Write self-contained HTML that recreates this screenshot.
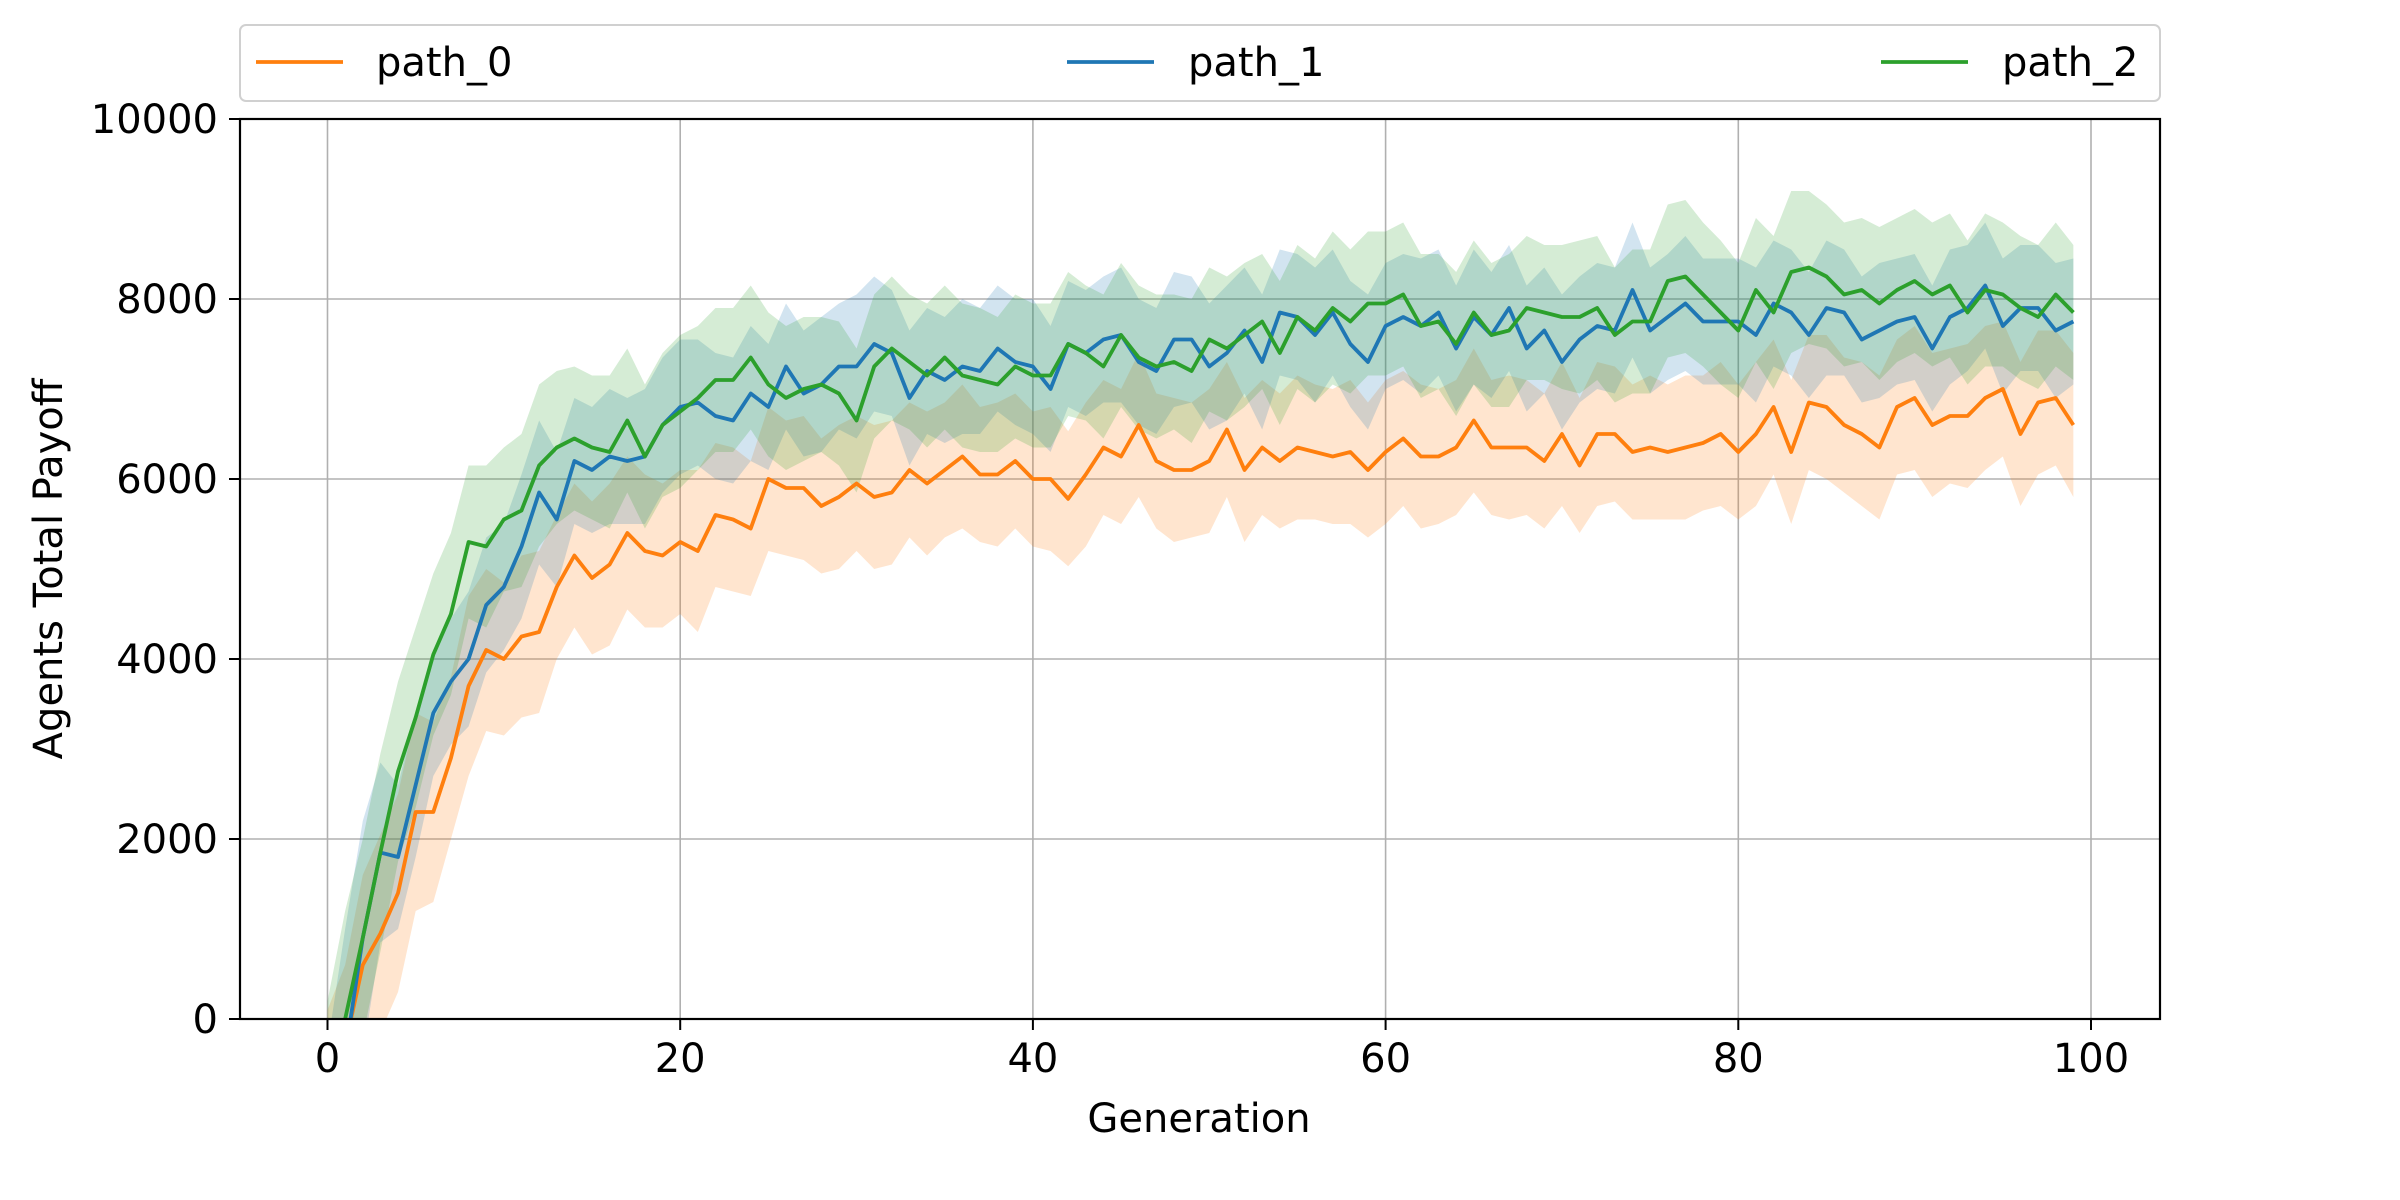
<!DOCTYPE html>
<html><head><meta charset="utf-8"><style>
html,body{margin:0;padding:0;background:#fff;width:2400px;height:1200px;overflow:hidden;}
svg{display:block;font-family:"DejaVu Sans","Liberation Sans",sans-serif;}
</style></head><body>
<svg id="chart" width="2400" height="1200" viewBox="0 0 2400 1200">
<defs><clipPath id="plotclip"><rect x="240" y="119" width="1920" height="900"/></clipPath></defs>
<rect x="0" y="0" width="2400" height="1200" fill="#fff"/>
<g id="grid"></g>
<g id="bands" clip-path="url(#plotclip)"></g>
<g id="lines" clip-path="url(#plotclip)"></g>
<rect x="240" y="119" width="1920" height="900" fill="none" stroke="#000" stroke-width="2.2"/>
<g id="ticks"></g>
<text x="1199" y="1132" font-size="40" text-anchor="middle">Generation</text>
<text x="0" y="0" font-size="40" text-anchor="middle" transform="translate(62,569) rotate(-90)">Agents Total Payoff</text>
<g>
<rect x="240" y="25" width="1920" height="76" rx="6" fill="#fff" stroke="#d0d0d0" stroke-width="2"/>
<g><line x1="256" y1="62" x2="343" y2="62" stroke="#ff7f0e" stroke-width="3.8"/><text x="376" y="76" font-size="40">path_0</text></g>
<g><line x1="1067" y1="62" x2="1154" y2="62" stroke="#1f77b4" stroke-width="3.8"/><text x="1188" y="76" font-size="40">path_1</text></g>
<g><line x1="1881" y1="62" x2="1968" y2="62" stroke="#2ca02c" stroke-width="3.8"/><text x="2002" y="76" font-size="40">path_2</text></g>
</g>
</svg>
<script>
const xTicks=[0,20,40,60,80,100];
const yTicks=[0,2000,4000,6000,8000,10000];
const path0=[-800,-300,600,950,1400,2300,2300,2900,3700,4100,4000,4250,4300,4800,5150,4900,5050,5400,5200,5150,5300,5200,5600,5550,5450,6000,5900,5900,5700,5800,5950,5800,5850,6100,5950,6100,6250,6050,6050,6200,6000,6000,5780,6050,6350,6250,6600,6200,6100,6100,6200,6550,6100,6350,6200,6350,6300,6250,6300,6100,6300,6450,6250,6250,6350,6650,6350,6350,6350,6200,6500,6150,6500,6500,6300,6350,6300,6350,6400,6500,6300,6500,6800,6300,6850,6800,6600,6500,6350,6800,6900,6600,6700,6700,6900,7000,6500,6850,6900,6600];
const path1=[-1500,-400,900,1850,1800,2600,3400,3750,4000,4600,4800,5250,5850,5550,6200,6100,6250,6200,6250,6600,6800,6850,6700,6650,6950,6800,7250,6950,7050,7250,7250,7500,7400,6900,7200,7100,7250,7200,7450,7300,7250,7000,7500,7400,7550,7600,7300,7200,7550,7550,7250,7400,7650,7300,7850,7800,7600,7850,7500,7300,7700,7800,7700,7850,7450,7800,7600,7900,7450,7650,7300,7550,7700,7650,8100,7650,7800,7950,7750,7750,7750,7600,7950,7850,7600,7900,7850,7550,7650,7750,7800,7450,7800,7900,8150,7700,7900,7900,7650,7750];
const path2=[-1000,0,900,1850,2750,3350,4050,4500,5300,5250,5550,5650,6150,6350,6450,6350,6300,6650,6250,6600,6750,6900,7100,7100,7350,7050,6900,7000,7050,6950,6650,7250,7450,7300,7150,7350,7150,7100,7050,7250,7150,7150,7500,7400,7250,7600,7350,7250,7300,7200,7550,7450,7600,7750,7400,7800,7650,7900,7750,7950,7950,8050,7700,7750,7500,7850,7600,7650,7900,7850,7800,7800,7900,7600,7750,7750,8200,8250,8050,7850,7650,8100,7850,8300,8350,8250,8050,8100,7950,8100,8200,8050,8150,7850,8100,8050,7900,7800,8050,7850];
const spread0=[900,900,1000,1100,1100,1100,1000,900,1000,900,850,900,900,800,800,850,900,850,850,800,800,900,800,800,750,800,750,800,750,800,750,800,800,750,800,750,800,750,800,750,750,800,750,800,750,750,800,750,800,750,800,750,800,750,750,800,750,750,800,750,800,750,800,750,750,800,750,800,750,750,800,750,800,750,750,800,750,800,750,800,750,800,750,800,750,800,750,800,800,750,800,800,750,800,800,750,800,800,750,800];
const spread1=[1200,1400,1300,1000,800,800,700,700,750,750,700,800,800,750,700,700,750,700,750,750,750,700,700,700,750,700,700,700,750,700,800,750,700,750,700,700,750,700,700,700,750,700,700,700,700,750,700,700,750,700,700,750,700,750,700,700,750,700,700,750,700,700,750,700,700,750,700,700,700,700,750,700,700,700,750,700,700,750,700,700,700,750,700,700,700,750,700,700,750,700,700,700,750,700,700,750,700,700,750,700];
const spread2=[1200,1200,1100,1100,1000,1000,900,900,850,900,800,850,900,850,800,800,850,800,800,800,850,800,800,800,800,800,800,800,750,800,800,800,800,750,800,800,800,800,750,800,800,800,800,750,800,800,800,800,750,800,800,800,800,750,800,800,800,850,800,800,800,800,800,750,800,800,800,850,800,750,800,850,800,750,800,800,850,850,800,800,750,800,850,900,850,800,800,800,850,800,800,800,800,800,850,800,800,800,800,750];
const X0=327.5,X1=2091,Y0=1019,Y1=119;
function sx(v){return X0+(X1-X0)*v/100;}
function sy(v){return Y0+(Y1-Y0)*v/10000;}
const NS="http://www.w3.org/2000/svg";
function mk(tag,attrs,parent){const e=document.createElementNS(NS,tag);for(const k in attrs)e.setAttribute(k,attrs[k]);parent.appendChild(e);return e;}
const grid=document.getElementById('grid'),ticks=document.getElementById('ticks');
xTicks.forEach(t=>{
  const g=mk('line',{x1:sx(t),x2:sx(t),y1:119,y2:1019,stroke:'#b0b0b0','stroke-width':1.6},grid);
  
  
  const tk=mk('line',{x1:sx(t),x2:sx(t),y1:1019,y2:1030,stroke:'#000','stroke-width':2},ticks);
  
  
  const tx=mk('text',{x:sx(t),y:1072,'font-size':40,'text-anchor':'middle'},ticks);
  tx.textContent=t;
  
  
});
yTicks.forEach(t=>{
  const g=mk('line',{x1:240,x2:2160,y1:sy(t),y2:sy(t),stroke:'#b0b0b0','stroke-width':1.6},grid);
  
  
  const tk=mk('line',{x1:229,x2:240,y1:sy(t),y2:sy(t),stroke:'#000','stroke-width':2},ticks);
  
  
  const tx=mk('text',{x:218,y:sy(t)+14,'font-size':40,'text-anchor':'end'},ticks);
  tx.textContent=t;
  
  
});
const series=[[path0,spread0,'#ff7f0e','path-0'],[path1,spread1,'#1f77b4','path-1'],[path2,spread2,'#2ca02c','path-2']];
const bands=document.getElementById('bands'),lines=document.getElementById('lines');
series.forEach(([d,s,c,n])=>{
  let up=d.map((v,i)=>sx(i)+','+sy(v+s[i]));
  let lo=d.map((v,i)=>sx(i)+','+sy(v-s[i])).reverse();
  const b=mk('polygon',{points:up.concat(lo).join(' '),fill:c,'fill-opacity':0.2},bands);
  
  
});
series.forEach(([d,s,c,n])=>{
  const l=mk('polyline',{points:d.map((v,i)=>sx(i)+','+sy(v)).join(' '),fill:'none',stroke:c,'stroke-width':3.8,'stroke-linejoin':'round'},lines);
  
  
});
</script>
</body></html>
